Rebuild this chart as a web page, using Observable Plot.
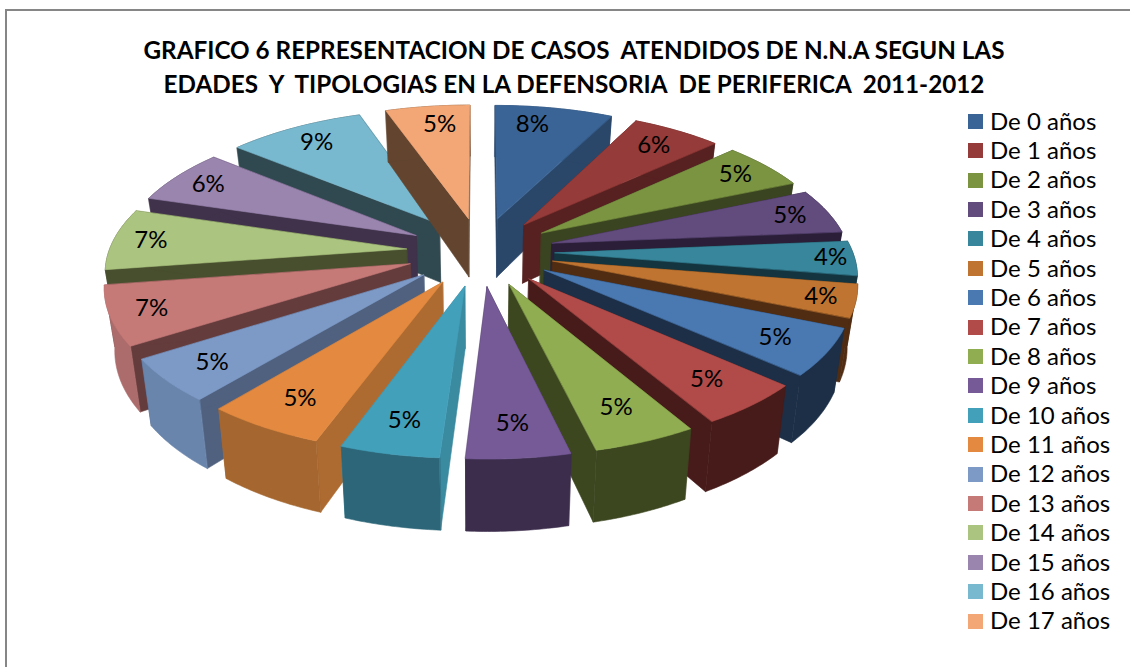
<!DOCTYPE html>
<html lang="es">
<head>
<meta charset="utf-8">
<script src="https://cdn.jsdelivr.net/npm/d3@7"></script>
<script src="https://cdn.jsdelivr.net/npm/@observablehq/plot@0.6"></script>
<style>
  html, body { margin: 0; padding: 0; background: #fff; }
  #page { position: relative; width: 1130px; height: 667px; overflow: hidden; font-family: Lato, "Open Sans", sans-serif; }
  #frame { position: absolute; left: 5px; top: 9px; right: 0; bottom: 0; border-left: 2.5px solid #868686; border-top: 2.5px solid #868686; }
  #title { position: absolute; left: 0; width: 1148px; top: 33px; text-align: center; font-weight: 700; font-size: 24.25px; line-height: 34px; color: #000; white-space: pre; }
  #legend { position: absolute; left: 968px; top: 106.5px; font-size: 24px; color: #000; }
  #legend div { height: 29.41px; display: flex; align-items: center; white-space: nowrap; }
  #legend i { display: block; width: 15px; height: 15px; margin-right: 7px; }
  #legend span { position: relative; top: -1.2px; }
  #chart { position: absolute; left: 0; top: 0; }
</style>
</head>
<body>
<div id="page">
  <div id="chart"></div>
  <div id="frame"></div>
  <div id="title"></div>
  <div id="legend"></div>
</div>
<script>
const titleLines = [
  "GRAFICO 6 REPRESENTACION DE CASOS  ATENDIDOS DE N.N.A SEGUN LAS",
  "EDADES  Y  TIPOLOGIAS EN LA DEFENSORIA  DE PERIFERICA  2011-2012"
];
const categories = ["De 0 años","De 1 años","De 2 años","De 3 años","De 4 años","De 5 años","De 6 años","De 7 años","De 8 años","De 9 años","De 10 años","De 11 años","De 12 años","De 13 años","De 14 años","De 15 años","De 16 años","De 17 años"];
const shares = [7.4,5.6,5.4,5.1,3.9,3.7,5.3,4.9,4.7,4.7,4.5,5.4,4.9,6.7,7.0,6.3,8.6,5.3];
const shownLabels = ["8%","6%","5%","5%","4%","4%","5%","5%","5%","5%","5%","5%","5%","7%","7%","6%","9%","5%"];
const topColors = ["#3A6495","#953B39","#7A9442","#624B7D","#37869B","#BF7531","#4A78B1","#B14B49","#90AD52","#755A97","#43A0BA","#E38A40","#7D9AC7","#C67A78","#ABC47F","#9A85AF","#78B9CF","#F3A776"];
const radialWallColors = ["#2A4669","#562120","#3B4420","#2A1E38","#143540","#4F2C12","#1C2F47","#471B1A","#3C4720","#3C2D4D","#3A8AA0","#AE6B31","#50617F","#653C3C","#484F2F","#3F324A","#30484F","#62442F"];
const outerWallColors = ["#2A4669","#562120","#3B4420","#2A1E38","#143540","#4F2C12","#1C2F47","#471B1A","#3C4720","#3C2D4D","#2C6678","#A5672F","#6985AC","#AC6C6B","#484F2F","#3F324A","#30484F","#62442F"];
// How far along each slice's radius its label sits, and its turn (degrees) off the slice's middle
const labelRadial = [0.825,0.834,0.858,0.862,0.92,0.888,0.828,0.814,0.807,0.821,0.822,0.818,0.837,0.867,0.873,0.864,0.834,0.821];
const labelTurn = [-3.5,0,0,0,0,0,0,0,0,0,0,0,0,0,0,0,0,1.5];
// Back-to-front painting order of the slices
const paintOrder = [0,1,2,3,4,5,6,7,8,9,16,15,14,13,12,11,10,17];

// Perspective view of the exploded disc
const view = {cx: 480, cy: 251, ax: 372, ay: 172, q: 0.172, explode: 0.2, radius: 0.8, depth: 60, taper: 0.972};
const project = (X, Y) => {
  const d = 1 - view.q * Y;
  return {x: view.cx + view.ax * X / d, y: view.cy + view.ay * Y / d, d};
};
const lower = (X, Y) => {
  const p = project(X, Y);
  return {x: view.cx + (p.x - view.cx) * view.taper, y: p.y + view.depth / p.d};
};

const total = d3.sum(shares);
let running = 0;
const slices = shares.map((s, i) => {
  const a0 = running / total * 2 * Math.PI;
  running += s;
  const a1 = running / total * 2 * Math.PI;
  const am = (a0 + a1) / 2;
  const ox = view.explode * Math.sin(am), oy = -view.explode * Math.cos(am);
  const arc = d3.range(0, 25).map(k => {
    const a = a0 + (a1 - a0) * k / 24;
    return [ox + view.radius * Math.sin(a), oy - view.radius * Math.cos(a)];
  });
  return {i, am, ox, oy, arc};
});

const rows = [];
const addPoly = (id, fill, pts) => pts.forEach(p => rows.push({id, fill, x: p.x, y: p.y}));
paintOrder.forEach(i => {
  const s = slices[i];
  const first = s.arc[0], last = s.arc[s.arc.length - 1];
  const radial = (tag, end) => addPoly(`${i}-${tag}`, radialWallColors[i], [
    project(s.ox, s.oy), project(end[0], end[1]), lower(end[0], end[1]), lower(s.ox, s.oy)
  ]);
  radial("start", first);
  radial("end", last);
  addPoly(`${i}-outer`, outerWallColors[i], [
    ...s.arc.map(a => project(a[0], a[1])),
    ...s.arc.slice().reverse().map(a => lower(a[0], a[1]))
  ]);
  addPoly(`${i}-top`, topColors[i], [
    project(s.ox, s.oy), ...s.arc.map(a => project(a[0], a[1]))
  ]);
});

const labelRows = slices.map(s => {
  const t = view.radius * labelRadial[s.i];
  const a = s.am + labelTurn[s.i] * Math.PI / 180;
  const p = project(s.ox + t * Math.sin(a), s.oy - t * Math.cos(a));
  return {x: p.x, y: p.y, text: shownLabels[s.i]};
});

const plot = Plot.plot({
  width: 1130, height: 667,
  marginTop: 0, marginRight: 0, marginBottom: 0, marginLeft: 0,
  x: {domain: [0, 1130], range: [0, 1130], axis: null},
  y: {domain: [0, 667], range: [0, 667], axis: null},
  style: {background: "transparent", overflow: "visible"},
  marks: [
    Plot.line(rows, {x: "x", y: "y", z: "id", fill: "fill", stroke: "fill", strokeWidth: 0.6, curve: "linear-closed"}),
    Plot.text(labelRows, {x: "x", y: "y", text: "text", fontSize: 24, fontFamily: "Lato, 'Open Sans', sans-serif", fill: "#000"})
  ]
});
document.getElementById("chart").append(plot);

document.getElementById("title").textContent = titleLines.join("\n");
const legend = document.getElementById("legend");
categories.forEach((c, i) => {
  const row = document.createElement("div");
  const sw = document.createElement("i");
  sw.style.background = topColors[i];
  const label = document.createElement("span");
  label.textContent = c;
  row.append(sw, label);
  legend.append(row);
});
</script>
</body>
</html>
